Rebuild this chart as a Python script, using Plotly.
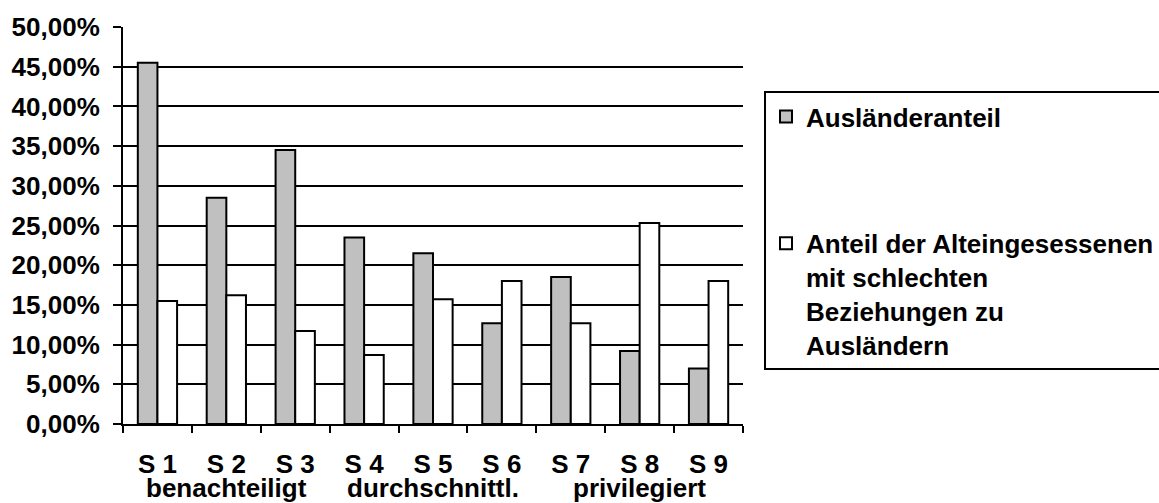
import plotly.graph_objects as go

# Stadtteile (S 1 - S 9) und ihre Einordnung
stadtteile = ["S 1", "S 2", "S 3", "S 4", "S 5", "S 6", "S 7", "S 8", "S 9"]
gruppen = ["benachteiligt", "durchschnittl.", "privilegiert"]
gruppen_position = ["S 2", "S 5", "S 8"]

# Anteile in Prozent
auslaenderanteil = [45.5, 28.5, 34.5, 23.5, 21.5, 12.7, 18.5, 9.2, 7.0]
schlechte_beziehungen = [15.5, 16.2, 11.7, 8.7, 15.7, 18.0, 12.7, 25.3, 18.0]

y_ticks = [0, 5, 10, 15, 20, 25, 30, 35, 40, 45, 50]

FONT = "Liberation Sans, Arial, sans-serif"
W, H = 1159, 503
M_L, M_R, M_T, M_B = 120, 416, 24, 79

fig = go.Figure()
fig.add_trace(go.Bar(
    x=stadtteile, y=[v / 100 for v in auslaenderanteil],
    name="Ausländeranteil", legendgroup="a",
    marker=dict(color="#c0c0c0", line=dict(color="black", width=2)),
))
fig.add_trace(go.Bar(
    x=stadtteile, y=[v / 100 for v in schlechte_beziehungen],
    name="Anteil der Alteingesessenen<br>mit schlechten<br>Beziehungen zu<br>Ausländern",
    legendgroup="b",
    marker=dict(color="white", line=dict(color="black", width=2)),
))

# zweite Beschriftungszeile unter der x-Achse
for text, pos in zip(gruppen, gruppen_position):
    fig.add_annotation(
        x=pos, xref="x", y=-0.16, yref="paper", yanchor="middle",
        text=text, showarrow=False,
        font=dict(family=FONT, size=26, color="black", weight=700),
    )

fig.update_layout(
    width=W, height=H,
    margin=dict(l=M_L, r=M_R, t=M_T, b=M_B, pad=0),
    paper_bgcolor="white", plot_bgcolor="white",
    separators=",.",
    barmode="group", bargap=0.43, bargroupgap=0,
    font=dict(family=FONT, size=26, color="black", weight=700),
    showlegend=True,
    legend=dict(
        xref="container", yref="container",
        x=764 / W, y=1 - 91 / H, xanchor="left", yanchor="top",
        bordercolor="black", borderwidth=2, bgcolor="white",
        traceorder="grouped", tracegroupgap=90, valign="top",
        maxheight=400,
        font=dict(family=FONT, size=26, color="black", weight=700),
        itemclick=False, itemdoubleclick=False,
    ),
)

fig.update_yaxes(
    range=[0, 0.5], tickvals=[v / 100 for v in y_ticks], tickformat=".2%",
    showgrid=True, gridcolor="black", gridwidth=2,
    showline=True, linecolor="black", linewidth=2,
    ticks="outside", ticklen=8, tickwidth=2, tickcolor="black",
    zeroline=False, ticklabelstandoff=8,
    tickfont=dict(family=FONT, size=26, color="black", weight=700),
)
fig.update_xaxes(
    showgrid=False, showline=True, linecolor="black", linewidth=2,
    ticks="outside", tickson="boundaries", ticklen=7, tickwidth=2, tickcolor="black",
    ticklabelstandoff=16,
    tickfont=dict(family=FONT, size=26, color="black", weight=700),
)

fig.write_html("out.html", config={"displayModeBar": False})
